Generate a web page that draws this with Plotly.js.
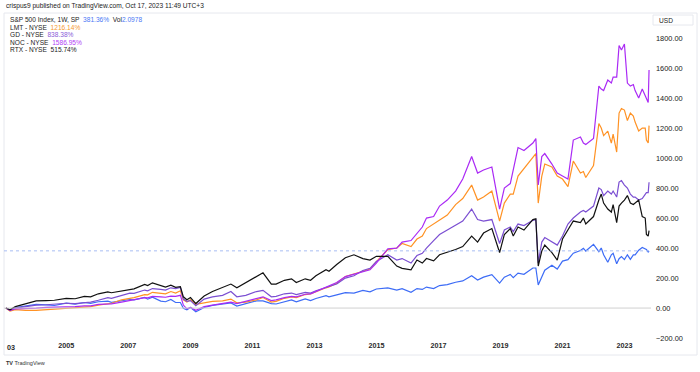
<!DOCTYPE html>
<html><head><meta charset="utf-8">
<script src="https://cdn.plot.ly/plotly-3.0.1.min.js"></script>
<style>html,body{margin:0;padding:0;background:#fff}#c{width:700px;height:372px}</style>
</head><body><div id="c"></div>
<script>
const dates = ['2003-01-20','2003-03-10','2003-05-12','2003-09-08','2004-01-12','2004-05-10','2004-08-13','2004-12-31','2005-04-15','2005-08-01','2005-10-14','2006-01-13','2006-05-05','2006-06-16','2006-10-13','2007-01-19','2007-03-09','2007-07-13','2007-08-17','2007-10-12','2008-01-18','2008-03-14','2008-05-16','2008-07-11','2008-09-05','2008-10-10','2008-11-21','2009-01-02','2009-03-06','2009-06-12','2009-09-18','2010-01-15','2010-04-23','2010-07-02','2010-10-15','2011-02-18','2011-05-06','2011-08-12','2011-10-07','2012-01-13','2012-04-06','2012-06-01','2012-09-14','2012-11-16','2013-01-18','2013-05-17','2013-06-21','2013-09-20','2013-12-31','2014-04-11','2014-07-25','2014-10-17','2014-12-31','2015-05-15','2015-08-28','2015-10-30','2016-02-12','2016-04-22','2016-06-24','2016-08-12','2016-11-04','2017-01-13','2017-04-14','2017-07-21','2017-10-13','2018-01-26','2018-04-06','2018-06-15','2018-09-21','2018-12-21','2019-02-15','2019-04-26','2019-05-31','2019-07-26','2019-10-04','2020-01-17','2020-02-21','2020-03-20','2020-05-01','2020-06-05','2020-08-28','2020-10-30','2020-12-31','2021-03-05','2021-05-07','2021-07-30','2021-09-03','2021-10-01','2021-12-31','2022-03-04','2022-04-01','2022-04-29','2022-06-17','2022-07-29','2022-08-19','2022-09-30','2022-10-28','2022-11-25','2022-12-30','2023-02-03','2023-03-10','2023-04-14','2023-05-05','2023-06-16','2023-07-28','2023-09-01','2023-09-15','2023-10-06','2023-10-16'];

const spx = [-1,-11,3,13,24,21,17,33,26,37,31,42,46,38,50,57,54,71,59,72,46,42,57,37,37,-1,-12,3,-25,4,18,25,34,13,29,48,48,30,27,42,54,41,61,50,64,83,75,88,103,100,118,108,127,134,119,129,105,130,124,140,130,150,156,172,181,216,187,206,223,166,206,224,203,233,225,267,267,154,212,252,286,260,313,323,366,384,399,380,425,376,400,355,305,355,365,295,329,343,323,355,325,355,355,386,404,397,390,374,381.36];

const lmt = [0,-20,-10,-15,-15,-10,-8,0,5,10,10,20,30,32,55,65,70,90,88,105,100,95,110,100,115,55,40,55,25,35,45,48,60,35,40,55,70,40,45,65,75,70,90,95,110,135,140,165,210,225,245,260,310,390,400,430,410,460,480,530,560,590,620,690,730,820,720,740,780,580,700,760,760,880,930,1000,1030,700,880,960,940,880,860,810,980,900,910,870,950,1230,1200,1150,1180,1100,1160,1040,1300,1330,1320,1250,1300,1280,1240,1180,1200,1200,1120,1100,1216.14];

const gd = [0,-15,0,10,20,22,25,32,30,38,40,52,70,65,85,100,98,120,115,130,125,120,135,130,138,60,45,50,15,60,75,85,110,75,85,110,118,75,78,95,100,90,105,100,115,135,140,160,200,215,250,265,310,355,320,330,300,350,365,400,450,490,520,555,580,660,590,580,590,430,520,540,510,560,550,585,590,300,440,470,440,420,480,560,600,640,650,640,680,800,790,750,780,760,780,740,840,850,820,800,760,740,740,720,730,760,770,770,838.38];

const noc = [0,-15,-5,-5,0,5,5,10,10,15,15,25,30,28,40,50,55,70,68,78,75,72,80,78,85,20,-5,5,-15,10,20,30,40,30,45,60,75,50,55,70,78,75,92,95,110,135,145,170,210,225,240,255,300,395,400,440,450,500,540,600,610,680,720,780,860,1010,900,920,940,660,800,830,930,1070,1050,1100,1130,820,1010,1030,960,900,880,860,1120,1140,1100,1090,1130,1480,1460,1450,1520,1500,1540,1540,1750,1720,1760,1500,1480,1490,1450,1400,1460,1410,1400,1370,1586.95];

const rtx = [0,-12,10,30,48,50,52,65,62,78,75,95,108,102,115,125,128,158,150,168,150,140,152,138,142,75,55,70,30,80,110,135,160,135,170,215,235,160,160,185,195,170,195,185,215,255,245,290,335,355,330,320,345,345,280,265,255,320,300,330,315,355,370,390,410,480,440,500,530,370,490,530,480,540,520,590,595,280,380,420,370,320,460,520,580,570,600,560,610,720,760,700,660,640,690,570,680,700,720,750,700,690,700,720,610,600,490,480,515.74];

const yTicks = [-200,0,200,400,600,800,1000,1200,1400,1600,1800];
const xTicks = ['2005-01-01','2007-01-01','2009-01-01','2011-01-01','2013-01-01','2015-01-01','2017-01-01','2019-01-01','2021-01-01','2023-01-01'];
const xTickText = ['2005','2007','2009','2011','2013','2015','2017','2019','2021','2023'];

const series = [
  {name:'S&P 500', y:spx, color:'#3d6cf6'},
  {name:'LMT', y:lmt, color:'#ff9224'},
  {name:'GD', y:gd, color:'#7b4fd2'},
  {name:'NOC', y:noc, color:'#aa2af5'},
  {name:'RTX', y:rtx, color:'#111111'}
];

const traces = series.map(s => ({
  type:'scatter', mode:'lines', x:dates, y:s.y, name:s.name,
  line:{color:s.color, width:1.2}, hoverinfo:'skip'
}));

const W=700, H=372, L=4, R=651, T=13, B=340;
const px = v => (v - L)/(R - L);
const py = v => (B - v)/(B - T);
const txt = '#222222';
const font = 'Liberation Sans, Arial, sans-serif';

const ann = (x, y, text, size, extra) => Object.assign({
  xref:'paper', yref:'paper', x:px(x), y:py(y), text:text, showarrow:false,
  xanchor:'left', yanchor:'middle', font:{family:font, size:size, color:txt}
}, extra||{});

const annotations = [
  ann(4, 6, 'crispus9 published on TradingView.com, Oct 17, 2023 11:49 UTC+3', 6.6),
  ann(8, 19, 'S&amp;P 500 Index, 1W, SP  <span style="color:#4a78f5">381.36%</span>  Vol<span style="color:#4a78f5">2.0978</span>', 6.6),
  ann(8, 27, 'LMT - NYSE  <span style="color:#f5992e">1216.14%</span>', 6.6),
  ann(8, 34.5, 'GD - NYSE  <span style="color:#8a5cd8">838.38%</span>', 6.6),
  ann(8, 42, 'NOC - NYSE  <span style="color:#b23ef5">1586.95%</span>', 6.6),
  ann(8, 49.5, 'RTX - NYSE  515.74%', 6.6),
  ann(657, 20, 'USD', 6.6),
  ann(5, 347, '<b>03</b>', 7.2, {font:{family:font, size:7.2, color:'#2a2a2a'}}),
  ann(4, 363, '<b>TV</b> TradingView', 5.5, {font:{family:font, size:5.5, color:'#333333'}})
];

const shapes = [
  {type:'rect', xref:'paper', yref:'paper', x0:px(4), x1:px(697), y0:py(355), y1:py(13), line:{color:'#e6e8ee', width:1}},
  {type:'rect', xref:'paper', yref:'paper', x0:px(653), x1:px(693), y0:py(25), y1:py(15), line:{color:'#e6e8ee', width:1}},
  {type:'line', xref:'paper', yref:'y', x0:0, x1:1, y0:0, y1:0, line:{color:'#d0d0d0', width:1}},
  {type:'line', xref:'paper', yref:'y', x0:0, x1:1, y0:381.36, y1:381.36, line:{color:'#a9bdf3', width:1, dash:'dot'}}
];

const layout = {
  width:W, height:H, margin:{l:L, r:W-R, t:T, b:H-B, pad:0},
  paper_bgcolor:'#ffffff', plot_bgcolor:'#ffffff', showlegend:false,
  font:{family:font, color:txt},
  xaxis:{type:'date', range:['2002-12-29','2023-11-08'], showgrid:false, zeroline:false, showline:false,
    ticks:'', tickvals:xTicks, ticktext:xTickText.map(t=>'<b>'+t+'</b>'), tickfont:{size:7.2, color:'#2a2a2a'}, fixedrange:true},
  yaxis:{side:'right', range:[-213,1967], showgrid:false, zeroline:false, showline:false, ticks:'',
    tickvals:yTicks, tickformat:'.2f', ticksuffix:'%', tickfont:{size:7.4, color:txt}, ticklabelstandoff:4, fixedrange:true},
  shapes:shapes, annotations:annotations
};

Plotly.newPlot('c', traces, layout, {displayModeBar:false, staticPlot:true});
</script></body></html>
